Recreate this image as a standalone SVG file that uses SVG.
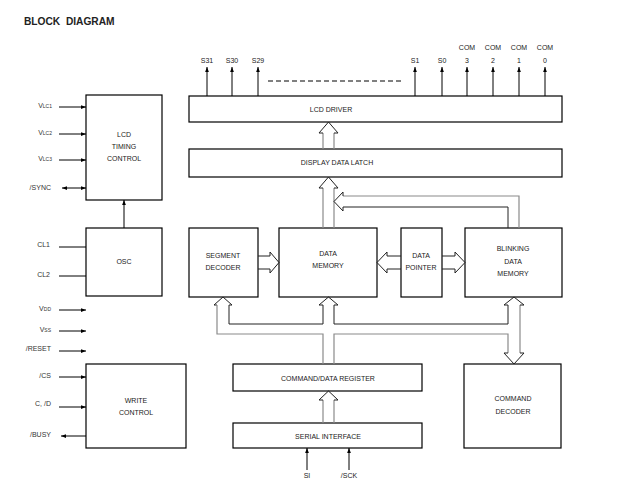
<svg xmlns="http://www.w3.org/2000/svg" width="619" height="489" viewBox="0 0 619 489">
<defs>
<marker id="ah" viewBox="0 0 8 6" refX="8" refY="3" markerWidth="5" markerHeight="4" orient="auto-start-reverse" markerUnits="userSpaceOnUse"><path d="M0,0 L8,3 L0,6 Z" fill="#000"/></marker>
<style>
.box{fill:#fff;stroke:#000;stroke-width:1.2}
.t{font-family:"Liberation Sans",Arial,sans-serif;font-size:7px;fill:#222;text-anchor:middle}
.l{font-family:"Liberation Sans",Arial,sans-serif;font-size:7px;fill:#333;text-anchor:end}
.sig{stroke:#000;stroke-width:1;fill:none}
.g{stroke:#8a8a8a;stroke-width:1.2;fill:none}
.k{stroke:#222;stroke-width:1;fill:none}
</style>
</defs>
<rect width="619" height="489" fill="#fff"/>
<text x="24" y="25" font-family="Liberation Sans,Arial,sans-serif" font-size="10.2" font-weight="bold" fill="#222" xml:space="preserve">BLOCK  DIAGRAM</text>

<g id="lcd-driver"><rect class="box" x="189" y="96" width="373" height="26"/><text class="t" x="331" y="112">LCD DRIVER</text></g>
<g id="display-data-latch"><rect class="box" x="189" y="149" width="373" height="28"/><text class="t" x="337" y="165">DISPLAY DATA LATCH</text></g>
<g id="lcd-timing-control"><rect class="box" x="86" y="95" width="76" height="105"/><text class="t" x="124" y="137">LCD</text><text class="t" x="124" y="149">TIMING</text><text class="t" x="124" y="161">CONTROL</text></g>
<g id="osc"><rect class="box" x="86" y="228" width="76" height="68"/><text class="t" x="124" y="264">OSC</text></g>
<g id="write-control"><rect class="box" x="86" y="364" width="100" height="84"/><text class="t" x="136" y="403">WRITE</text><text class="t" x="136" y="415">CONTROL</text></g>
<g id="segment-decoder"><rect class="box" x="189" y="228" width="69" height="69"/><text class="t" x="223" y="258">SEGMENT</text><text class="t" x="223" y="270">DECODER</text></g>
<g id="data-memory"><rect class="box" x="279" y="228" width="98" height="69"/><text class="t" x="328" y="256">DATA</text><text class="t" x="328" y="268">MEMORY</text></g>
<g id="data-pointer"><rect class="box" x="401" y="228" width="41" height="69"/><text class="t" x="421" y="258">DATA</text><text class="t" x="421" y="270">POINTER</text></g>
<g id="blinking-data-memory"><rect class="box" x="465" y="228" width="97" height="69"/><text class="t" x="513" y="251">BLINKING</text><text class="t" x="513" y="264">DATA</text><text class="t" x="513" y="276">MEMORY</text></g>
<g id="command-data-register"><rect class="box" x="233" y="364" width="189" height="27"/><text class="t" x="328" y="381">COMMAND/DATA REGISTER</text></g>
<g id="serial-interface"><rect class="box" x="233" y="423" width="189" height="25"/><text class="t" x="328" y="439">SERIAL INTERFACE</text></g>
<g id="command-decoder"><rect class="box" x="464" y="364" width="97" height="84"/><text class="t" x="513" y="401">COMMAND</text><text class="t" x="513" y="414">DECODER</text></g>

<g id="connectors">
<path class="sig" marker-end="url(#ah)" d="M207,96 V67"/>
<path class="sig" marker-end="url(#ah)" d="M232,96 V67"/>
<path class="sig" marker-end="url(#ah)" d="M258,96 V67"/>
<path class="sig" marker-end="url(#ah)" d="M415,96 V67"/>
<path class="sig" marker-end="url(#ah)" d="M442,96 V67"/>
<path class="sig" marker-end="url(#ah)" d="M467,96 V67"/>
<path class="sig" marker-end="url(#ah)" d="M493,96 V67"/>
<path class="sig" marker-end="url(#ah)" d="M519,96 V67"/>
<path class="sig" marker-end="url(#ah)" d="M545,96 V67"/>
<path class="sig" stroke-dasharray="5,3" d="M268,81 H404"/>
<path class="sig" marker-end="url(#ah)" d="M59,107 H86"/>
<path class="sig" marker-end="url(#ah)" d="M59,134 H86"/>
<path class="sig" marker-end="url(#ah)" d="M59,160 H86"/>
<path class="sig" marker-start="url(#ah)" marker-end="url(#ah)" d="M62,188 H86"/>
<path class="sig" d="M59,247 H86"/>
<path class="sig" d="M59,276 H86"/>
<path class="sig" marker-end="url(#ah)" d="M59,310 H86"/>
<path class="sig" marker-end="url(#ah)" d="M59,331 H86"/>
<path class="sig" marker-end="url(#ah)" d="M59,351 H86"/>
<path class="sig" marker-end="url(#ah)" d="M59,377 H86"/>
<path class="sig" marker-end="url(#ah)" d="M59,407 H86"/>
<path class="sig" marker-end="url(#ah)" d="M86,436 H61"/>
<path class="sig" marker-end="url(#ah)" d="M124,228 V200"/>
<path class="sig" marker-end="url(#ah)" d="M307,470 V448"/>
<path class="sig" marker-end="url(#ah)" d="M349,470 V448"/>
<path class="g" d="M323,149 V133"/><path class="g" d="M334,149 V133"/>
<path class="k" d="M323,133 H319 L328.5,122 L338,133 H334"/>
<path class="g" d="M323,228 V188"/><path class="g" d="M334,228 V188"/>
<path class="k" d="M323,188 H319 L328.5,177 L338,188 H334"/>
<path class="g" d="M519,228 V196 H343"/>
<path class="k" d="M343,196 V192 L334,201.5 L343,211 V207 H508 V228"/>
<path class="k" d="M258,256 H270 V252 L279,262.5 L270,273 V269 H258"/>
<path class="k" d="M401,256 H387 V252 L377,262.5 L387,273 V269 H401"/>
<path class="k" d="M442,256 H455 V252 L465,262.5 L455,273 V269 H442"/>
<path class="k" d="M217,305 H214 L223,297 L232,305 H229"/>
<path class="g" d="M217,305 V334 H323 V364"/>
<path class="k" d="M229,305 V324 H323 V305"/>
<path class="k" d="M323,305 H319 L328.5,297 L338,305 H334"/>
<path class="k" d="M334,305 V324 H508 V305"/>
<path class="g" d="M334,364 V334 H508 V353"/>
<path class="g" d="M520,305 V353"/>
<path class="k" d="M508,305 H504 L514,297 L524,305 H520"/>
<path class="k" d="M508,353 H504 L514,364 L524,353 H520"/>
<path class="g" d="M323,423 V400"/><path class="g" d="M334,423 V400"/>
<path class="k" d="M323,400 H319 L328.5,391 L338,400 H334"/>
</g>

<g id="labels">
<text class="t" x="207" y="63">S31</text><text class="t" x="232" y="63">S30</text><text class="t" x="258" y="63">S29</text>
<text class="t" x="415" y="63">S1</text><text class="t" x="442" y="63">S0</text>
<text class="t" x="467" y="50">COM</text><text class="t" x="467" y="63">3</text>
<text class="t" x="493" y="50">COM</text><text class="t" x="493" y="63">2</text>
<text class="t" x="519" y="50">COM</text><text class="t" x="519" y="63">1</text>
<text class="t" x="545" y="50">COM</text><text class="t" x="545" y="63">0</text>
<text class="l" x="52" y="108">V<tspan font-size="5">LC1</tspan></text>
<text class="l" x="52" y="135">V<tspan font-size="5">LC2</tspan></text>
<text class="l" x="52" y="161">V<tspan font-size="5">LC3</tspan></text>
<text class="l" x="51" y="190">/SYNC</text>
<text class="l" x="50" y="247">CL1</text>
<text class="l" x="50" y="277">CL2</text>
<text class="l" x="51" y="311">V<tspan font-size="5">DD</tspan></text>
<text class="l" x="51" y="332">V<tspan font-size="5">SS</tspan></text>
<text class="l" x="51" y="351">/RESET</text>
<text class="l" x="51" y="378">/CS</text>
<text class="l" x="51" y="406">C, /D</text>
<text class="l" x="51" y="437">/BUSY</text>
<text class="t" x="307" y="478">SI</text>
<text class="t" x="349" y="478">/SCK</text>
</g>
</svg>
